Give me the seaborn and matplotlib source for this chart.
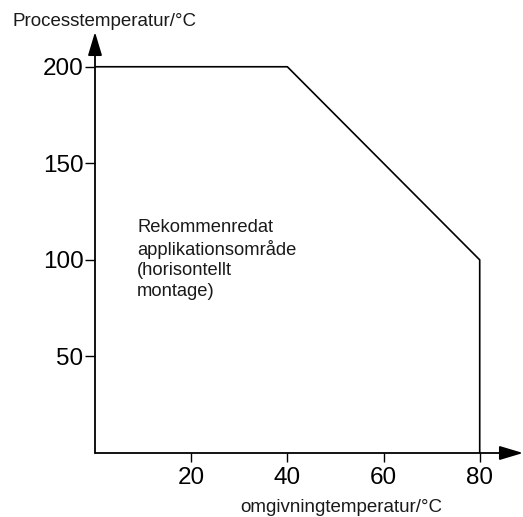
import matplotlib
matplotlib.use('Agg')
import matplotlib.pyplot as plt
import seaborn as sns
import pandas as pd

# Data
omgivning_temp = [0, 40, 80, 80]
process_temp = [200, 200, 100, 0]
x_ticks = [20, 40, 60, 80]
y_ticks = [50, 100, 150, 200]
area_text = "Rekommenredat\napplikationsområde\n(horisontellt\nmontage)"

sns.set_style("white")
plt.rcParams['font.family'] = ['Liberation Sans', 'DejaVu Sans']

df = pd.DataFrame({'x': omgivning_temp, 'y': process_temp})

W, H = 523, 517
fig = plt.figure(figsize=(W / 100, H / 100), dpi=100)
# axes from origin (95, 453) to arrow tips (523, 32)
ax = fig.add_axes([95 / W, (H - 453) / H, (523 - 95) / W, (453 - 32) / H])

sns.lineplot(data=df, x='x', y='y', estimator=None, sort=False,
             color='black', linewidth=1.2, ax=ax)

ax.set_xlim(0, 89)
ax.set_ylim(0, 218)
for s in ax.spines.values():
    s.set_visible(False)

# axes with arrows
arrow = dict(arrowstyle='-|>,head_length=1.0,head_width=0.3',
             mutation_scale=14.4, lw=1.3, color='black',
             shrinkA=0, shrinkB=0)
ax.annotate('', xy=(0, 1), xytext=(0, 0), xycoords='axes fraction',
            arrowprops=arrow, annotation_clip=False)
ax.annotate('', xy=(1, 0), xytext=(0, 0), xycoords='axes fraction',
            arrowprops=arrow, annotation_clip=False)

ax.set_xticks(x_ticks)
ax.set_yticks(y_ticks)
ax.tick_params(axis='x', direction='out', length=6.5, width=1, pad=3.5,
               labelsize=17.5, bottom=True, colors='black')
ax.tick_params(axis='y', direction='out', length=7.2, width=1, pad=1,
               labelsize=17.5, left=True, colors='black')
ax.set_xlabel('')
ax.set_ylabel('')

ax.text(8.75, 121, area_text, ha='left', va='top', fontsize=13.2,
        linespacing=1.25, color='#1a1a1a')

fig.text(13 / W, 1 - 26 / H, 'Processtemperatur/°C', ha='left',
         va='baseline', fontsize=13.5, color='#1a1a1a')
fig.text(341 / W, 1 - 512 / H, 'omgivningtemperatur/°C', ha='center',
         va='baseline', fontsize=13.5, color='#1a1a1a')

fig.savefig('out.png', dpi=100)
